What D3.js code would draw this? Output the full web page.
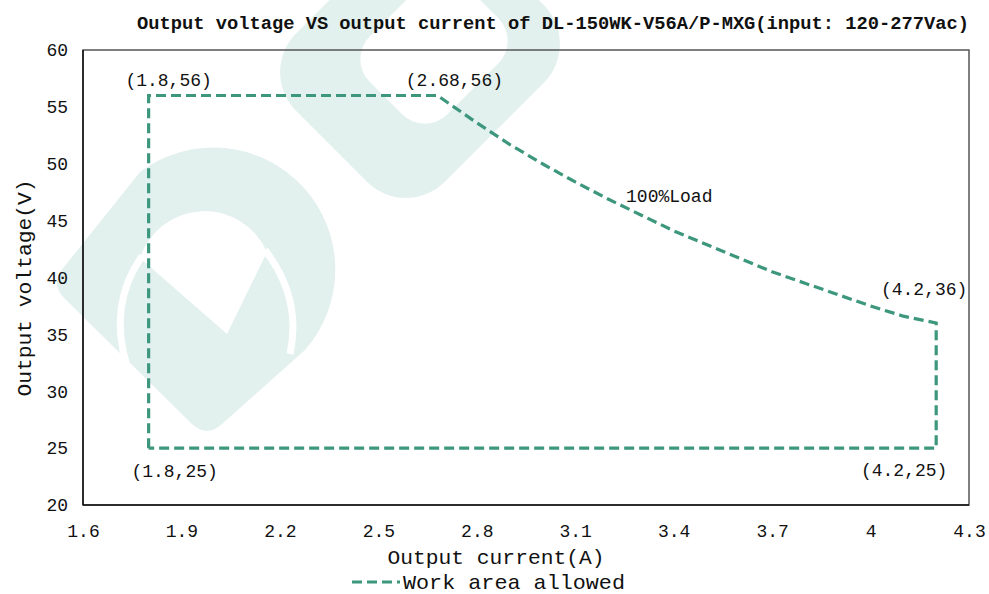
<!DOCTYPE html>
<html>
<head>
<meta charset="utf-8">
<script src="https://cdn.jsdelivr.net/npm/d3@7/dist/d3.min.js"></script>
<style>
  html, body { margin: 0; padding: 0; background: #fff; }
  svg { display: block; }
  text { font-family: "Liberation Mono", "DejaVu Sans Mono", monospace; fill: #111; }
</style>
</head>
<body>
<svg id="chart" width="989" height="594"></svg>
<script>
// ---------------- data ----------------
const title = "Output voltage VS output current of DL-150WK-V56A/P-MXG(input: 120-277Vac)";
const xLabel = "Output current(A)";
const yLabel = "Output voltage(V)";
const seriesName = "Work area allowed";

const xTicks = [1.6, 1.9, 2.2, 2.5, 2.8, 3.1, 3.4, 3.7, 4, 4.3];
const yTicks = [20, 25, 30, 35, 40, 45, 50, 55, 60];

// boundary of the allowed work area (current A, voltage V), closed polygon
const areaCurrent = [1.8, 1.8, 2.68, 2.8, 2.9, 3.0, 3.1, 3.2, 3.3, 3.4, 3.5, 3.6, 3.7, 3.8, 3.9, 4.0, 4.1, 4.2, 4.2, 1.8];
const areaVoltage = [25, 56, 56, 53.6, 51.7, 50.0, 48.4, 46.9, 45.5, 44.1, 42.9, 41.7, 40.5, 39.5, 38.5, 37.5, 36.6, 36, 25, 25];

// annotations
const noteText = ["(1.8,56)", "(2.68,56)", "(1.8,25)", "(4.2,25)", "(4.2,36)", "100%Load"];
const noteX    = [1.8, 2.68, 1.8, 4.2, 4.2, 3.2];
const noteY    = [56, 56, 25, 25, 36, 46.9];

// ---------------- layout ----------------
const W = 989, H = 594;
const m = { left: 83, right: 20, top: 50, bottom: 89 };
const svg = d3.select("#chart");
const lineColor = "#3c977d";
const wm = "#e2f0ee";

// ---------------- watermark (background logo) ----------------
const bg = svg.append("g").attr("class", "watermark");
// upper ring
bg.append("g").attr("transform", "translate(420,58) rotate(45)")
  .append("rect").attr("x", -105).attr("y", -125).attr("width", 210).attr("height", 250)
  .attr("rx", 55).attr("fill", wm);
bg.append("g").attr("transform", "translate(434,50) rotate(45)")
  .append("rect").attr("x", -55).attr("y", -68).attr("width", 110).attr("height", 136)
  .attr("rx", 32).attr("fill", "#fff");
// lower-left logo
bg.append("path")
  .attr("d", "M 60,272 L 140,172 A 122 122 0 0 1 305,350 L 222,424 Q 207,438 192,424 L 64,298 Q 52,285 60,272 Z")
  .attr("fill", wm);
bg.append("path")
  .attr("d", "M 140,258 A 68 68 0 0 1 267,252 L 227,334 Z")
  .attr("fill", "#fff");
bg.append("path")
  .attr("d", "M 142,256 Q 108,305 127,366")
  .attr("fill", "none").attr("stroke", "#fff").attr("stroke-width", 7);
bg.append("path")
  .attr("d", "M 265,250 Q 302,298 290,354")
  .attr("fill", "none").attr("stroke", "#fff").attr("stroke-width", 7);

// ---------------- scales ----------------
const x = d3.scaleLinear().domain([1.6, 4.3]).range([m.left, W - m.right]);
const y = d3.scaleLinear().domain([20, 60]).range([H - m.bottom, m.top]);

// frame
svg.append("rect")
  .attr("x", x(1.6)).attr("y", y(60))
  .attr("width", x(4.3) - x(1.6)).attr("height", y(20) - y(60))
  .attr("fill", "none").attr("stroke", "#555").attr("stroke-width", 1.5);
svg.append("line").attr("x1", x(1.6)).attr("x2", x(1.6)).attr("y1", y(60)).attr("y2", y(20))
  .attr("stroke", "#111").attr("stroke-width", 1.5);
svg.append("line").attr("x1", x(1.6)).attr("x2", x(4.3)).attr("y1", y(20)).attr("y2", y(20))
  .attr("stroke", "#111").attr("stroke-width", 1.5);

// axes
const fmt = d3.format("");
const xAxis = svg.append("g").attr("transform", `translate(0,${y(20)})`)
  .call(d3.axisBottom(x).tickValues(xTicks).tickSize(0).tickPadding(19).tickFormat(fmt));
const yAxis = svg.append("g").attr("transform", `translate(${x(1.6)},0)`)
  .call(d3.axisLeft(y).tickValues(yTicks).tickSize(0).tickPadding(15).tickFormat(fmt));
[xAxis, yAxis].forEach(g => {
  g.select(".domain").remove();
  g.selectAll("text").style("font-family", '"Liberation Mono", monospace')
    .style("font-size", "18px").attr("fill", "#111");
});

// work area line
const pts = areaCurrent.map((c, i) => [c, areaVoltage[i]]);
const line = d3.line().x(d => x(d[0])).y(d => y(d[1])).curve(d3.curveLinear);
svg.append("path")
  .datum(pts)
  .attr("d", line)
  .attr("fill", "none")
  .attr("stroke", lineColor)
  .attr("stroke-width", 3.2)
  .attr("stroke-dasharray", "10,5")
  .attr("stroke-linejoin", "miter");

// annotations
const noteDx = [20, 17, 26, -32, -12, 18];
const noteDy = [-9.5, -10, 29, 28, -28, 3];
const noteAnchor = ["middle", "middle", "middle", "middle", "middle", "start"];
noteText.forEach((t, i) => {
  svg.append("text")
    .attr("x", x(noteX[i]) + noteDx[i])
    .attr("y", y(noteY[i]) + noteDy[i])
    .attr("text-anchor", noteAnchor[i])
    .style("font-size", "18px")
    .text(t);
});

// title
svg.append("text")
  .attr("x", 137).attr("y", 29)
  .attr("textLength", 832).attr("lengthAdjust", "spacingAndGlyphs")
  .style("font-size", "18px").style("font-weight", "bold")
  .text(title);

// axis titles
svg.append("text")
  .attr("x", (x(1.6) + x(4.3)) / 2 - 30).attr("y", 564)
  .attr("text-anchor", "middle")
  .attr("textLength", 217).attr("lengthAdjust", "spacingAndGlyphs")
  .style("font-size", "21px")
  .text(xLabel);

svg.append("text")
  .attr("transform", `translate(31,288) rotate(-90)`)
  .attr("text-anchor", "middle")
  .attr("textLength", 217).attr("lengthAdjust", "spacingAndGlyphs")
  .style("font-size", "21px")
  .text(yLabel);

// legend
const lg = svg.append("g");
lg.append("line").attr("x1", 352).attr("x2", 400).attr("y1", 582).attr("y2", 582)
  .attr("stroke", lineColor).attr("stroke-width", 3.2).attr("stroke-dasharray", "10,5");
lg.append("text").attr("x", 403).attr("y", 589)
  .attr("textLength", 222).attr("lengthAdjust", "spacingAndGlyphs")
  .style("font-size", "21px")
  .text(seriesName);
</script>
</body>
</html>
